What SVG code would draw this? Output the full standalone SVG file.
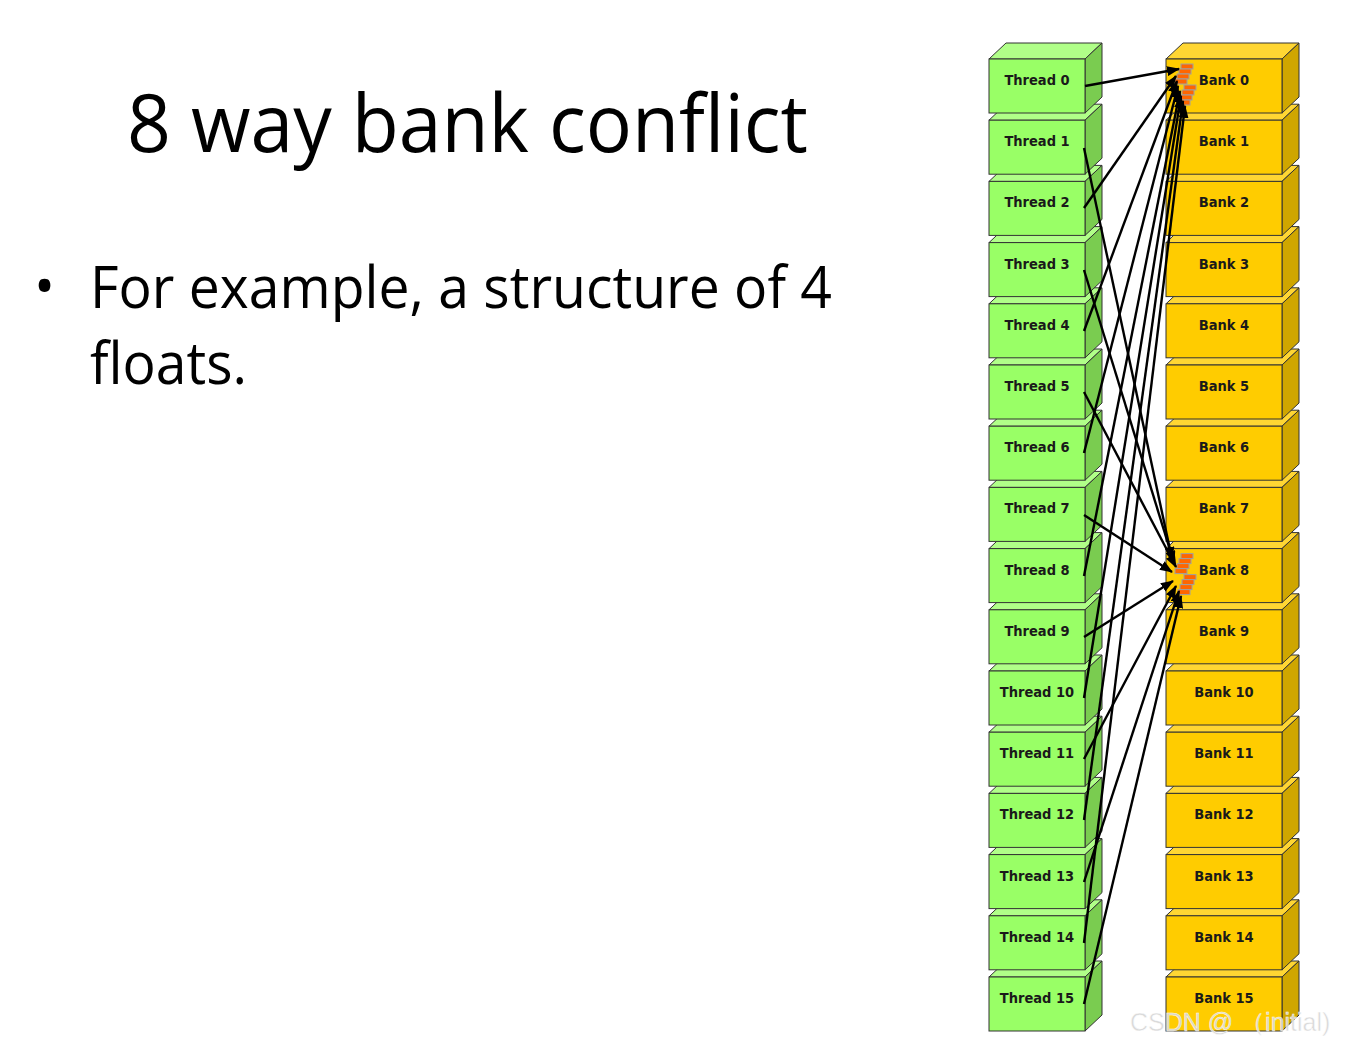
<svg xmlns="http://www.w3.org/2000/svg" xmlns:xlink="http://www.w3.org/1999/xlink" width="1350" height="1046" viewBox="0 0 1350 1046">
<style>
.title{font-family:"Open Sans","Noto Sans","Liberation Sans",sans-serif;fill:#000}
.lbl{font-family:"DejaVu Sans Condensed","DejaVu Sans",sans-serif;font-weight:bold;font-size:14.5px;fill:#1a1a1a;text-anchor:middle}
.tf{fill:#99ff66;stroke:#333;stroke-width:1}
.tt{fill:#b0ff88;stroke:#333;stroke-width:1}
.ts{fill:#7acc50;stroke:#333;stroke-width:1}
.bf{fill:#ffcc00;stroke:#333;stroke-width:1}
.bt{fill:#ffd633;stroke:#333;stroke-width:1}
.bs{fill:#cfa600;stroke:#333;stroke-width:1}
.or{fill:#ff6600;stroke:#a0a0a0;stroke-width:1}
.cn{stroke:#000;stroke-width:2.4;fill:none;marker-end:url(#ah)}
.wm{font-family:"Liberation Sans",Arial,sans-serif;font-size:25px;fill:#d6d6d6;stroke:#ffffff;stroke-width:0.5;opacity:0.9}
</style>
<defs>
<marker id="ah" markerUnits="userSpaceOnUse" markerWidth="13" markerHeight="10" refX="12" refY="5" orient="auto">
<path d="M0,0 L13,5 L0,10 z" fill="#000"/>
</marker>
<g id="tb">
<polygon class="tt" points="0,0 17,-16 113,-16 96,0"/>
<polygon class="ts" points="96,0 113,-16 113,38 96,54"/>
<rect class="tf" x="0" y="0" width="96" height="54"/>
</g>
<g id="bb">
<polygon class="bt" points="0,0 17,-16 133,-16 116,0"/>
<polygon class="bs" points="116,0 133,-16 133,38 116,54"/>
<rect class="bf" x="0" y="0" width="116" height="54"/>
</g>
<g id="stack">
<rect class="or" x="15" y="5" width="12" height="5"/>
<rect class="or" x="13" y="10" width="12" height="5"/>
<rect class="or" x="11" y="15" width="12" height="5"/>
<rect class="or" x="9" y="20" width="12" height="5"/>
<rect class="or" x="18" y="26" width="12" height="5"/>
<rect class="or" x="16" y="31" width="12" height="5"/>
<rect class="or" x="14" y="36" width="12" height="5"/>
<rect class="or" x="12" y="41" width="12" height="5"/>
</g>
</defs>
<rect x="0" y="0" width="1350" height="1046" fill="#ffffff"/>
<text class="title" x="127" y="152" font-size="80" textLength="681" lengthAdjust="spacingAndGlyphs">8 way bank conflict</text>
<text class="title" x="34" y="306" font-size="56">•</text>
<text class="title" x="90" y="308" font-size="58" textLength="742" lengthAdjust="spacingAndGlyphs">For example, a structure of 4</text>
<text class="title" x="90" y="384" font-size="58" textLength="157" lengthAdjust="spacingAndGlyphs">floats.</text>

<g id="threads">
<g id="thread-15"><use xlink:href="#tb" x="989" y="977"/><text class="lbl" x="1037" y="1003">Thread 15</text></g>
<g id="thread-14"><use xlink:href="#tb" x="989" y="915.8"/><text class="lbl" x="1037" y="941.8">Thread 14</text></g>
<g id="thread-13"><use xlink:href="#tb" x="989" y="854.6"/><text class="lbl" x="1037" y="880.6">Thread 13</text></g>
<g id="thread-12"><use xlink:href="#tb" x="989" y="793.4"/><text class="lbl" x="1037" y="819.4">Thread 12</text></g>
<g id="thread-11"><use xlink:href="#tb" x="989" y="732.2"/><text class="lbl" x="1037" y="758.2">Thread 11</text></g>
<g id="thread-10"><use xlink:href="#tb" x="989" y="671"/><text class="lbl" x="1037" y="697">Thread 10</text></g>
<g id="thread-9"><use xlink:href="#tb" x="989" y="609.8"/><text class="lbl" x="1037" y="635.8">Thread 9</text></g>
<g id="thread-8"><use xlink:href="#tb" x="989" y="548.6"/><text class="lbl" x="1037" y="574.6">Thread 8</text></g>
<g id="thread-7"><use xlink:href="#tb" x="989" y="487.4"/><text class="lbl" x="1037" y="513.4">Thread 7</text></g>
<g id="thread-6"><use xlink:href="#tb" x="989" y="426.2"/><text class="lbl" x="1037" y="452.2">Thread 6</text></g>
<g id="thread-5"><use xlink:href="#tb" x="989" y="365"/><text class="lbl" x="1037" y="391">Thread 5</text></g>
<g id="thread-4"><use xlink:href="#tb" x="989" y="303.8"/><text class="lbl" x="1037" y="329.8">Thread 4</text></g>
<g id="thread-3"><use xlink:href="#tb" x="989" y="242.6"/><text class="lbl" x="1037" y="268.6">Thread 3</text></g>
<g id="thread-2"><use xlink:href="#tb" x="989" y="181.4"/><text class="lbl" x="1037" y="207.4">Thread 2</text></g>
<g id="thread-1"><use xlink:href="#tb" x="989" y="120.2"/><text class="lbl" x="1037" y="146.2">Thread 1</text></g>
<g id="thread-0"><use xlink:href="#tb" x="989" y="59"/><text class="lbl" x="1037" y="85">Thread 0</text></g>
</g>

<g id="banks">
<g id="bank-15"><use xlink:href="#bb" x="1166" y="977"/><text class="lbl" x="1224" y="1003">Bank 15</text></g>
<g id="bank-14"><use xlink:href="#bb" x="1166" y="915.8"/><text class="lbl" x="1224" y="941.8">Bank 14</text></g>
<g id="bank-13"><use xlink:href="#bb" x="1166" y="854.6"/><text class="lbl" x="1224" y="880.6">Bank 13</text></g>
<g id="bank-12"><use xlink:href="#bb" x="1166" y="793.4"/><text class="lbl" x="1224" y="819.4">Bank 12</text></g>
<g id="bank-11"><use xlink:href="#bb" x="1166" y="732.2"/><text class="lbl" x="1224" y="758.2">Bank 11</text></g>
<g id="bank-10"><use xlink:href="#bb" x="1166" y="671"/><text class="lbl" x="1224" y="697">Bank 10</text></g>
<g id="bank-9"><use xlink:href="#bb" x="1166" y="609.8"/><text class="lbl" x="1224" y="635.8">Bank 9</text></g>
<g id="bank-8"><use xlink:href="#bb" x="1166" y="548.6"/><use xlink:href="#stack" x="1166" y="548.6"/><text class="lbl" x="1224" y="574.6">Bank 8</text></g>
<g id="bank-7"><use xlink:href="#bb" x="1166" y="487.4"/><text class="lbl" x="1224" y="513.4">Bank 7</text></g>
<g id="bank-6"><use xlink:href="#bb" x="1166" y="426.2"/><text class="lbl" x="1224" y="452.2">Bank 6</text></g>
<g id="bank-5"><use xlink:href="#bb" x="1166" y="365"/><text class="lbl" x="1224" y="391">Bank 5</text></g>
<g id="bank-4"><use xlink:href="#bb" x="1166" y="303.8"/><text class="lbl" x="1224" y="329.8">Bank 4</text></g>
<g id="bank-3"><use xlink:href="#bb" x="1166" y="242.6"/><text class="lbl" x="1224" y="268.6">Bank 3</text></g>
<g id="bank-2"><use xlink:href="#bb" x="1166" y="181.4"/><text class="lbl" x="1224" y="207.4">Bank 2</text></g>
<g id="bank-1"><use xlink:href="#bb" x="1166" y="120.2"/><text class="lbl" x="1224" y="146.2">Bank 1</text></g>
<g id="bank-0"><use xlink:href="#bb" x="1166" y="59"/><use xlink:href="#stack" x="1166" y="59"/><text class="lbl" x="1224" y="85">Bank 0</text></g>
</g>

<g id="connectors">
<line class="cn" x1="1085" y1="86" x2="1179" y2="69"/>
<line class="cn" x1="1084" y1="208" x2="1176" y2="76"/>
<line class="cn" x1="1084" y1="331" x2="1177" y2="81"/>
<line class="cn" x1="1084" y1="453" x2="1178" y2="86"/>
<line class="cn" x1="1084" y1="576" x2="1180" y2="91"/>
<line class="cn" x1="1084" y1="698" x2="1181" y2="96"/>
<line class="cn" x1="1084" y1="820" x2="1183" y2="101"/>
<line class="cn" x1="1084" y1="943" x2="1185" y2="106"/>
<line class="cn" x1="1084" y1="148" x2="1172" y2="559"/>
<line class="cn" x1="1084" y1="270" x2="1174" y2="563"/>
<line class="cn" x1="1084" y1="392" x2="1176" y2="567"/>
<line class="cn" x1="1084" y1="515" x2="1172" y2="572"/>
<line class="cn" x1="1084" y1="637" x2="1173" y2="581"/>
<line class="cn" x1="1084" y1="759" x2="1176" y2="586"/>
<line class="cn" x1="1084" y1="882" x2="1179" y2="591"/>
<line class="cn" x1="1084" y1="1004" x2="1181" y2="596"/>
</g>
<text class="wm" x="1130" y="1031">CSDN @ （initial)</text>
</svg>
